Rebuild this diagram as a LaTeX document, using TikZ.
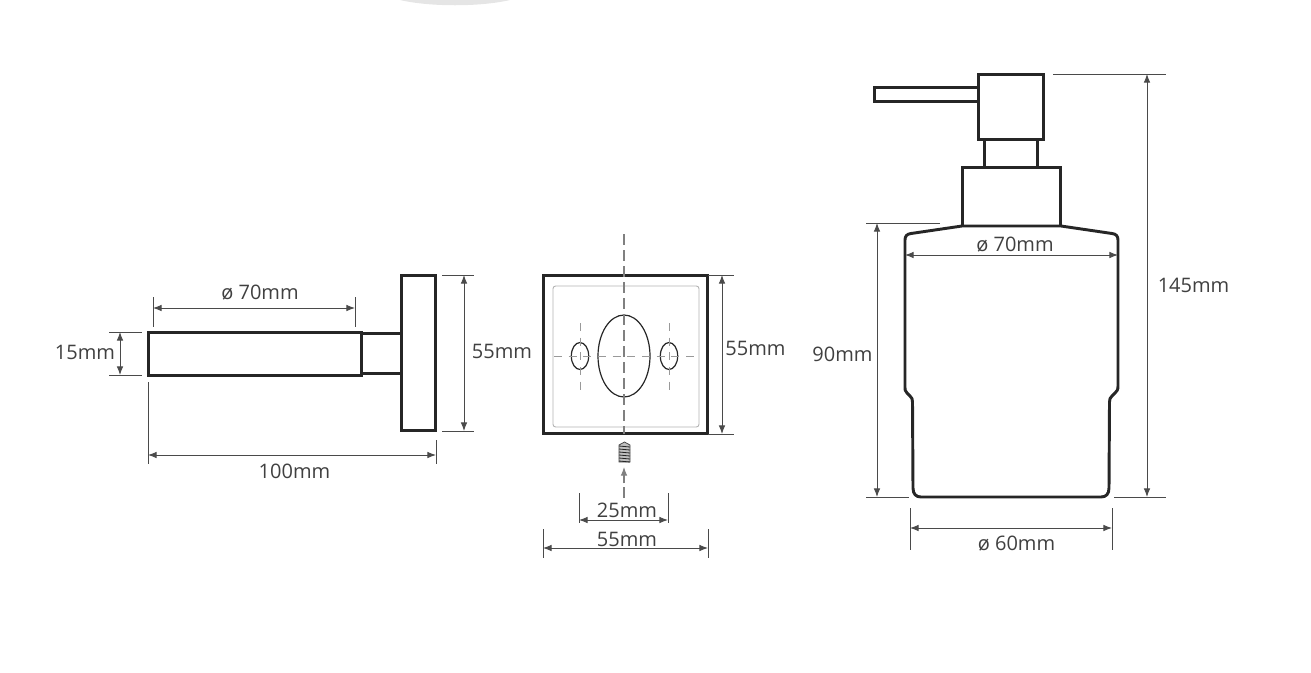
\documentclass[tikz,border=0pt]{standalone}
\usepackage{fontspec}
\setmainfont{Open Sans}
\usetikzlibrary{arrows.meta}
\definecolor{outline}{HTML}{262626}
\definecolor{dimgray}{HTML}{4A4A4A}
\tikzset{
    part/.style={draw=outline, line width=2.2pt, line join=miter},
    thinpart/.style={draw=outline, line width=0.9pt},
    dimline/.style={draw=dimgray, line width=0.75pt, {Latex[length=6.5pt,width=5pt]}-{Latex[length=6.5pt,width=5pt]}},
    extline/.style={draw=dimgray, line width=0.75pt},
    centreline/.style={draw=gray, line width=0.8pt, dash pattern=on 8pt off 4pt},
    crossline/.style={draw=gray!80, line width=0.7pt, dash pattern=on 6pt off 5pt},
    dimtext/.style={font=\fontsize{15}{18}\selectfont, text=black!75, inner sep=0pt}
}
\begin{document}
\begin{tikzpicture}[x=0.75pt, y=-0.75pt]
    \useasboundingbox (0,0) rectangle (1311,672);
    \fill[black!10] (400,0) .. controls (430,7) and (480,7) .. (510,0) -- cycle;
    % Wall holder, side view
    \draw[part] (148.5,332.5) rectangle (361.5,375.5);
    \draw[part] (362,333.5) -- (401,333.5) (362,373.5) -- (401,373.5);
    \draw[part] (401.5,275.5) rectangle (435.5,430.5);
    % Wall plate, front view
    \draw[draw=black!30, line width=0.7pt, rounded corners=2pt] (553,286) rectangle (699,427);
    \draw[part] (543.5,275.5) rectangle (707.5,433.5);
    \draw[thinpart] (624,356) ellipse (26 and 41);
    \foreach \i in {580,669} {
        \draw[thinpart] (\i,356) ellipse (8.7 and 13.5);
        \draw[crossline] (\i,323) -- (\i,391);
    }
    \draw[crossline] (554,356) -- (695,356);
    \draw[centreline] (624,234) -- (624,434);
    % Screw
    \draw[draw=dimgray, fill=black!25, line width=0.6pt] (619,462) -- (619,445) -- (624.5,442) -- (630,445) -- (630,462) -- cycle;
    \foreach \i in {446,449,...,461} {
        \draw[draw=outline, line width=0.6pt] (619,\i) -- (630,\i+1);
    }
    \coordinate (Screw-a) at (624,498);
    \coordinate (Screw-b) at (624,467);
    \draw[draw=gray, line width=0.8pt, dash pattern=on 8pt off 3pt, -{Latex[length=6.5pt,width=5pt]}] (Screw-a) -- (Screw-b);
    % Dispenser
    \draw[part] (874.5,87.5) rectangle (978,101.5);
    \draw[part] (978.5,74.5) rectangle (1043.5,139.5);
    \draw[part] (984.5,140) -- (984.5,167) (1037.5,140) -- (1037.5,167);
    \draw[part] (962.5,167.5) rectangle (1060.5,226);
    \draw[part] (962,226) -- (1061,226) -- (1112,233.5)
        .. controls (1116,234) and (1118,236) .. (1118,240)
        -- (1118,386) .. controls (1118,390) and (1117,391) .. (1115,393)
        -- (1112,396) .. controls (1110,398) and (1109.5,399) .. (1109.5,402)
        -- (1109,488) .. controls (1109,494) and (1106,497) .. (1101,497)
        -- (921,497) .. controls (916,497) and (913,494) .. (913,488)
        -- (912.5,402) .. controls (912.5,399) and (912,398) .. (910,396)
        -- (907,393) .. controls (905,391) and (905,390) .. (905,386)
        -- (905,240) .. controls (905,236) and (907,234) .. (911,233.5)
        -- cycle;
    % Extension lines
    \foreach \name/\xa/\ya/\xb/\yb in {
        HolderTop-1/153/297/153/327, HolderTop-2/355/297/355/327,
        HolderRod-1/109/332/142/332, HolderRod-2/109/375/142/375,
        HolderPlate-1/442/275/474/275, HolderPlate-2/442/431/474/431,
        HolderLen-1/148/382/148/464, HolderLen-2/436/440/436/464,
        PlateH-1/708/275/734/275, PlateH-2/708/434/734/434,
        Holes-1/579/493/579/523, Holes-2/668/493/668/523,
        PlateW-1/543/529/543/558, PlateW-2/708/529/708/558,
        Total-1/1053/74/1166/74, Total-2/1114/497/1166/497,
        Body-1/866/223/940/223, Body-2/866/497/909/497,
        Base-1/910/508/910/550, Base-2/1112/508/1112/550} {
        \coordinate (\name-a) at (\xa,\ya);
        \coordinate (\name-b) at (\xb,\yb);
        \draw[extline] (\name-a) -- (\name-b);
    }
    % Dimension arrows
    \foreach \name/\xa/\ya/\xb/\yb in {
        HolderTop/153/308/355/308, HolderRod/120/332/120/375,
        HolderPlate/464/275/464/431, HolderLen/148/455/436/455,
        PlateH/722/275/722/434, Holes/579/520/668/520,
        PlateW/543/548/708/548, Total/1147/74/1147/497,
        Body/877/223/877/497, Neck/905/255/1118/255,
        Base/910/528/1112/528} {
        \coordinate (\name-s) at (\xa,\ya);
        \coordinate (\name-e) at (\xb,\yb);
        \draw[dimline] (\name-s) -- (\name-e);
    }
    % Labels
    \foreach \name/\x/\y/\txt in {
        HolderTopText/260/293/ø 70mm, HolderRodText/85/352/15mm,
        HolderPlateText/502/351/55mm, HolderLenText/294.5/471/100mm,
        PlateHText/755.5/348/55mm, HolesText/627/510/25mm,
        PlateWText/627/539/55mm, TotalText/1193.5/285/145mm,
        BodyText/842.5/354/90mm, NeckText/1015/245/ø 70mm,
        BaseText/1016.5/544/ø 60mm} {
        \node[dimtext] (\name) at (\x,\y) {\txt};
    }
\end{tikzpicture}
\end{document}
